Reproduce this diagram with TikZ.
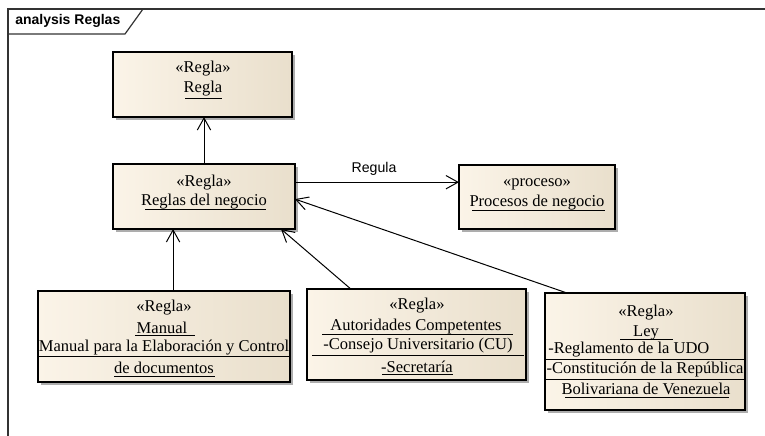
\documentclass[tikz,border=0pt]{standalone}
\usepackage{fontspec}
\setmainfont{Liberation Serif}
\newfontfamily\uisans{Liberation Sans}
\usetikzlibrary{arrows.meta,shadows,calc,fit}

\definecolor{boxl}{HTML}{FBF4E8}
\definecolor{boxr}{HTML}{E9DFCC}

\begin{document}
\begin{tikzpicture}[x=0.75pt,y=-0.75pt,
  cls/.style={draw=black, line width=1pt, inner sep=0pt, outer sep=0pt,
    left color=boxl, right color=boxr,
    drop shadow={shadow xshift=2.6pt, shadow yshift=-2.6pt, fill=black!32, opacity=1}},
  txt/.style={inner sep=0pt, font=\fontsize{12.4}{14}\selectfont},
  uline/.style={line width=0.6pt},
  link/.style={line width=0.75pt, -{Straight Barb[length=9pt,width=10pt,line width=0.75pt]}},
  frame/.style={line width=0.9pt, draw=black!80}]

\useasboundingbox (0,0) rectangle (765,436);

% diagram frame and name tab
\draw[frame] (8,436) -- (8,9) -- (765,9);
\draw[frame] (8,34) -- (125,34) -- (143,9);
\node[anchor=west, inner sep=0pt, font=\uisans\bfseries\fontsize{10.5}{12}\selectfont] (title) at (15,21) {analysis Reglas};

% classes
\node[cls, fit={(113,52) (292,117)}] (regla) {};
\node[cls, fit={(113,164) (295,229)}] (neg) {};
\node[cls, fit={(459,165) (615,229)}] (proc) {};
\node[cls, fit={(38,291) (290,382)}] (man) {};
\node[cls, fit={(307,289) (526,380)}] (aut) {};
\node[cls, fit={(545,293) (745,410)}] (ley) {};

% Regla
\node[txt] (t1) at (203,69) {«Regla»};
\node[txt] (t2) at (203,89) {Regla};
\draw[uline] (185,98) -- (222,98);

% Reglas del negocio
\node[txt] (t3) at (204,183) {«Regla»};
\node[txt] (t4) at (204,202) {Reglas del negocio};
\draw[uline] (145,209) -- (266,209);

% Procesos de negocio
\node[txt] (t5) at (537,184) {«proceso»};
\node[txt] (t6) at (537,203) {Procesos de negocio};
\draw[uline] (472,210) -- (605,210);

% Manual
\node[txt] (t7) at (164,308) {«Regla»};
\node[txt] (t8) at (162,328) {Manual};
\draw[uline] (135,335) -- (195,335);
\node[txt] (t9) at (164,348) {Manual para la Elaboración y Control};
\draw[uline] (39,356) -- (289,356);
\node[txt] (t10) at (164,368) {de documentos};
\draw[uline] (114,376) -- (215,376);

% Autoridades Competentes
\node[txt] (t11) at (417,306) {«Regla»};
\node[txt] (t12) at (416,327) {Autoridades Competentes};
\draw[uline] (322,334) -- (513,334);
\node[txt] (t13) at (418,346) {-Consejo Universitario (CU)};
\draw[uline] (312,355) -- (524,355);
\node[txt] (t14) at (417,367) {-Secretaría};
\draw[uline] (382,374) -- (453,374);

% Ley
\node[txt] (t15) at (646,313) {«Regla»};
\node[txt] (t16) at (646,333) {Ley};
\draw[uline] (620,339) -- (673,339);
\node[txt,anchor=west] (t17) at (548,350) {-Reglamento de la UDO};
\draw[uline] (546,359) -- (744,359);
\node[txt] (t18) at (645,370) {-Constitución de la República};
\draw[uline] (546,379) -- (744,379);
\node[txt] (t19) at (646,389) {Bolivariana de Venezuela};
\draw[uline] (565,397) -- (729,397);

% connectors
\draw[link] (neg.north) -- (neg.north |- regla.south);

\coordinate (r1) at ($(neg.north east)!0.28!(neg.south east)$);
\draw[link] (r1) -- (r1 -| proc.west);
\node[font=\uisans\fontsize{10.6}{12}\selectfont, inner sep=0pt] (lbl) at (374,169) {Regula};

\coordinate (m1) at ($(man.north west)!0.536!(man.north east)$);
\draw[link] (m1) -- (m1 |- neg.south);

\coordinate (a1) at ($(aut.north west)!0.2!(aut.north east)$);
\coordinate (a2) at ($(neg.south west)!0.923!(neg.south east)$);
\draw[link] (a1) -- (a2);

\coordinate (l1) at ($(ley.north west)!0.11!(ley.north east)$);
\coordinate (l2) at ($(neg.north east)!0.54!(neg.south east)$);
\draw[link] (l1) -- (l2);

\end{tikzpicture}
\end{document}
